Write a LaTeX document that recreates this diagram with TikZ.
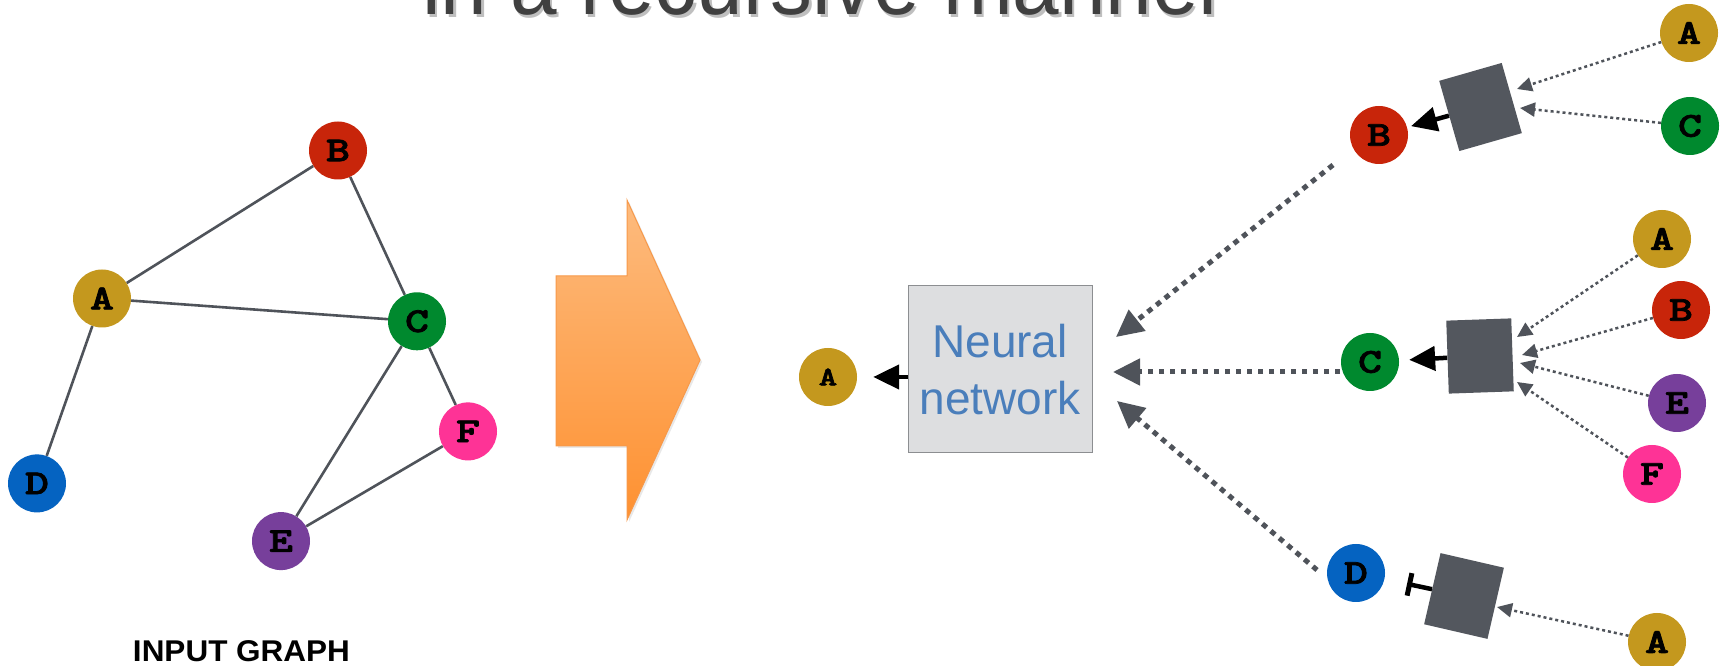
\documentclass[tikz,border=0pt]{standalone}
\usepackage{fontspec}
\setmainfont{Liberation Sans}
\newfontfamily\vertexfont{lmmonolt10-bold.otf}[FakeBold=2]
\usetikzlibrary{arrows.meta,shapes.geometric,shadows}

\definecolor{nodeA}{HTML}{C4981E}
\definecolor{nodeB}{HTML}{C8250A}
\definecolor{nodeC}{HTML}{00892E}
\definecolor{nodeD}{HTML}{0563C1}
\definecolor{nodeE}{HTML}{773F9B}
\definecolor{nodeF}{HTML}{FE3396}
\definecolor{edgegray}{HTML}{4F535A}
\definecolor{aggfill}{HTML}{53575E}
\definecolor{nnfill}{HTML}{DDDEE0}
\definecolor{nnborder}{HTML}{8C8E91}
\definecolor{nnblue}{HTML}{4A7EBB}
\definecolor{titlegray}{HTML}{404040}
\definecolor{orangetop}{HTML}{FDBB7E}
\definecolor{orangebot}{HTML}{FE9131}
\definecolor{orangeedge}{HTML}{F7994A}

% wide slab-serif vertex letters
\newcommand\vlabel[1]{\scalebox{1.3}[1]{\vertexfont #1}}

\tikzset{
  vnode/.style={circle, minimum size=58pt, inner sep=0pt,
    text=black, font=\fontsize{35}{35}\selectfont},
  agg/.style={rectangle, fill=aggfill, minimum width=65pt, minimum height=73pt, inner sep=0pt},
  gedge/.style={edgegray, line width=2.6pt},
  feed/.style={edgegray, line width=5pt, dash pattern=on 5.5pt off 5.5pt,
    -{Triangle[length=27pt,width=26pt]}},
  msg/.style={edgegray, line width=2.5pt, dash pattern=on 3pt off 3pt,
    -{Triangle[length=15pt,width=14pt]}},
  outarrow/.style={black, line width=4.5pt, -{Triangle[length=26pt,width=24pt]}},
  stubarrow/.style={black, line width=4.5pt, -{Bar[width=23pt,line width=5pt]}},
  titletext/.style={anchor=base west, inner sep=0pt, xscale=.93,
    font=\fontsize{90}{90}\selectfont}
}

\begin{document}
\begin{tikzpicture}[x=1pt,y=1pt]
\useasboundingbox (0,0) rectangle (1723,666);
\clip (0,0) rectangle (1723,666);
\fill[white] (0,0) rectangle (1723,666);

% heading line, cut by the top edge
\node[titletext, text=black!45, opacity=.55] (titleshadow) at (424.5,648) {in a recursive manner};
\node[titletext, text=titlegray] (title) at (422,651) {in a recursive manner};

% ---------- input graph ----------
\node[vnode, fill=nodeA] (gA) at (102,367.5) {\vlabel{A}};
\node[vnode, fill=nodeB] (gB) at (338,515.5) {\vlabel{B}};
\node[vnode, fill=nodeC] (gC) at (417,344.7) {\vlabel{C}};
\node[vnode, fill=nodeD] (gD) at (37,182.6) {\vlabel{D}};
\node[vnode, fill=nodeE] (gE) at (281,124.9) {\vlabel{E}};
\node[vnode, fill=nodeF] (gF) at (468,234.6) {\vlabel{F}};

\draw[gedge] (gA) -- (gB);
\draw[gedge] (gA) -- (gC);
\draw[gedge] (gA) -- (gD);
\draw[gedge] (gB) -- (gC);
\draw[gedge] (gC) -- (gE);
\draw[gedge] (gC) -- (gF);
\draw[gedge] (gE) -- (gF);

\node[anchor=base, inner sep=0pt, xscale=1.05, font=\fontsize{30}{30}\selectfont\bfseries]
  (caption) at (241.5,4) {INPUT GRAPH};

% ---------- big orange arrow ----------
\shade[top color=orangetop, bottom color=orangebot, draw=orangeedge, line width=1pt,
  drop shadow={opacity=.18, shadow xshift=2pt, shadow yshift=-2pt}]
  (556,390) -- (627,390) -- (627,466) -- (700,306) -- (627,146) -- (627,220) -- (556,220) -- cycle;

% ---------- neural network ----------
\node[draw=nnborder, fill=nnfill, line width=1pt, minimum width=184pt, minimum height=167pt,
  inner sep=0pt, text=nnblue, align=center, font=\fontsize{46}{57}\selectfont]
  (nn) at (1000,296.5) {Neural\\network};
\node[vnode, fill=nodeA, font=\fontsize{27}{27}\selectfont] (outA) at (828,289) {\vlabel{A}};
\draw[outarrow, shorten >=16pt] (nn.west |- outA) -- (outA);

% dotted feeds into the network
\coordinate (fB) at (1333,501); \coordinate (hB) at (1116,329);
\coordinate (fC) at (1340,294); \coordinate (hC) at (1113,294);
\coordinate (fD) at (1317,96);  \coordinate (hD) at (1117,265);
\draw[feed] (fB) -- (hB);
\draw[feed] (fC) -- (hC);
\draw[feed] (fD) -- (hD);

% ---------- neighbourhood of B ----------
\node[vnode, fill=nodeB] (rB) at (1379,531) {\vlabel{B}};
\node[agg, rotate=16] (sq1) at (1480.5,559) {};
\node[vnode, fill=nodeA] (rA1) at (1689,633) {\vlabel{A}};
\node[vnode, fill=nodeC] (rC1) at (1690,540) {\vlabel{C}};
\coordinate (m1a) at (1517,577);
\coordinate (m1c) at (1520,558);
\draw[msg] (rA1) -- (m1a);
\draw[msg] (rC1) -- (m1c);
\draw[outarrow, shorten >=4pt] (sq1) -- (rB);

% ---------- neighbourhood of C ----------
\node[vnode, fill=nodeC] (rC) at (1370,304) {\vlabel{C}};
\node[agg, rotate=2] (sq2) at (1480,310) {};
\node[vnode, fill=nodeA] (rA2) at (1662,427) {\vlabel{A}};
\node[vnode, fill=nodeB] (rB2) at (1681,356) {\vlabel{B}};
\node[vnode, fill=nodeE] (rE2) at (1677,263) {\vlabel{E}};
\node[vnode, fill=nodeF] (rF2) at (1652,192) {\vlabel{F}};
\coordinate (m2a) at (1517,329);
\coordinate (m2b) at (1522,311);
\coordinate (m2e) at (1520,303);
\coordinate (m2f) at (1517,284);
\draw[msg] (rA2) -- (m2a);
\draw[msg] (rB2) -- (m2b);
\draw[msg] (rE2) -- (m2e);
\draw[msg] (rF2) -- (m2f);
\draw[outarrow, shorten >=10pt] (sq2) -- (rC);

% ---------- neighbourhood of D ----------
\node[vnode, fill=nodeD] (rD) at (1356,93) {\vlabel{D}};
\node[agg, rotate=-13] (sq3) at (1464,70) {};
\node[vnode, fill=nodeA] (rA3) at (1657,24) {\vlabel{A}};
\coordinate (m3a) at (1497,59);
\draw[msg] (rA3) -- (m3a);
\draw[stubarrow, shorten >=23pt] (sq3) -- (rD);
\end{tikzpicture}
\end{document}
